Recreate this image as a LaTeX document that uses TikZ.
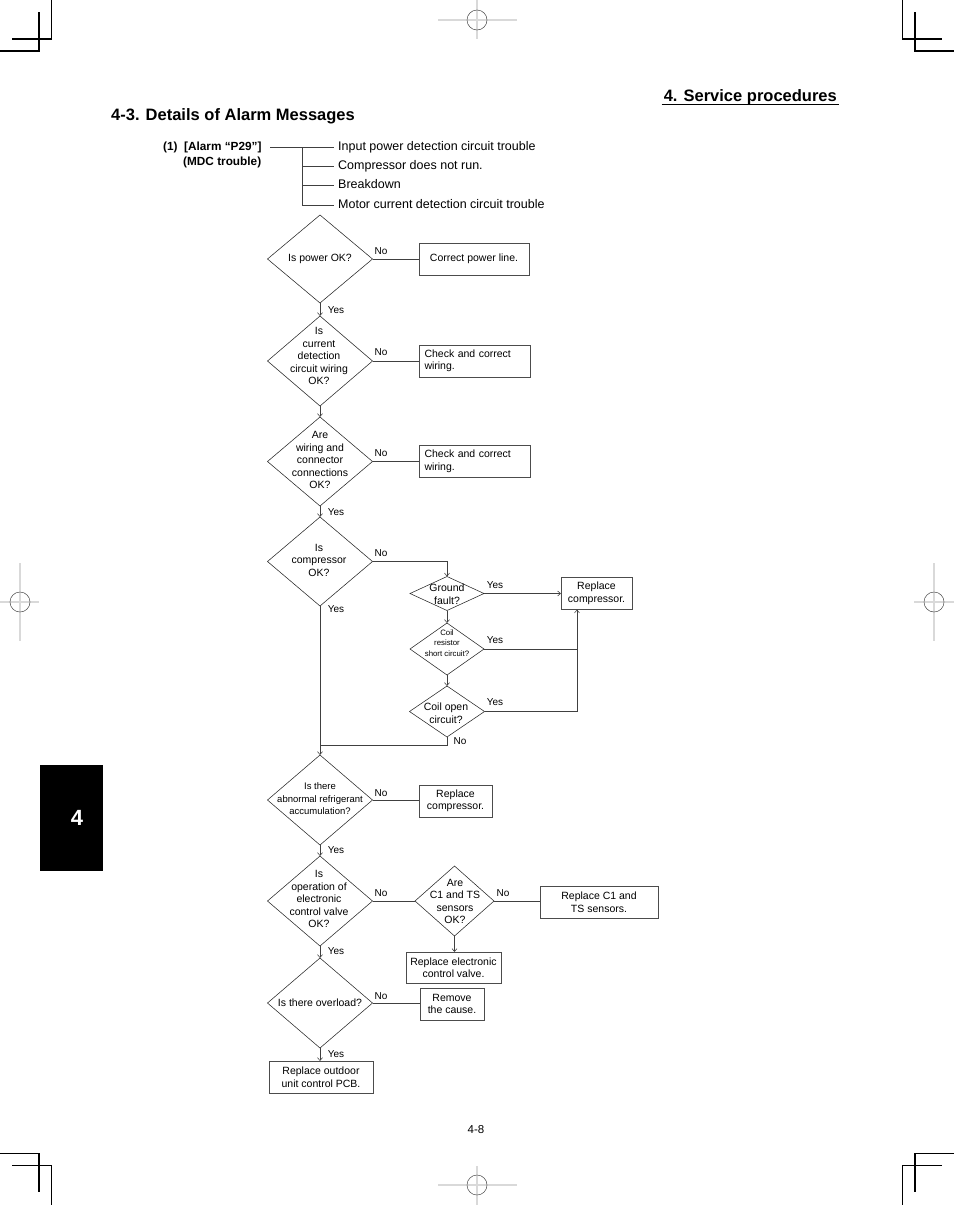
\documentclass[tikz,border=0pt]{standalone}
\usepackage{fontspec}
\setmainfont{Liberation Sans}
\usetikzlibrary{shapes.geometric,arrows.meta,shadows,calc}
\begin{document}
\begin{tikzpicture}[x=1pt,y=-1pt,
 line/.style={draw=black!75,line width=0.55pt},
 arr/.style={line,-{Straight Barb[length=3pt,width=5pt]}},
 dia/.style={diamond,draw=black!85,line width=0.55pt,inner sep=0pt,outer sep=0pt},
 dtext/.style={align=center,inner sep=0pt,font=\fontsize{10.5}{12.5}\selectfont},
 box/.style={rectangle,draw=black!70,line width=0.55pt,fill=white,inner sep=0pt,outer sep=0pt,align=center,font=\fontsize{10.5}{12.5}\selectfont,drop shadow={shadow xshift=0.9pt,shadow yshift=-0.9pt,fill=black!55,opacity=1}},
 yn/.style={inner sep=0pt,font=\fontsize{10}{12}\selectfont},
 tit/.style={inner sep=0pt,anchor=base west,text height=9pt,text depth=2.6pt,font=\fontsize{12.5}{14}\selectfont},
 crop/.style={line width=1.1pt,black},
 regl/.style={line width=1.1pt,black!15},
 regc/.style={line width=0.5pt,black!70}]

\useasboundingbox (0,0) rectangle (954,1205);

% crop marks
\draw[crop] (51.5,0) -- (51.5,39) -- (12,39);
\draw[crop] (39,12) -- (39,51) -- (0,51);
\draw[crop] (902.5,0) -- (902.5,39) -- (942,39);
\draw[crop] (915,12) -- (915,51) -- (954,51);
\draw[crop] (0,1153.5) -- (39,1153.5) -- (39,1192);
\draw[crop] (12,1165.5) -- (51.5,1165.5) -- (51.5,1205);
\draw[crop] (954,1153.5) -- (915,1153.5) -- (915,1192);
\draw[crop] (942,1165.5) -- (902.5,1165.5) -- (902.5,1205);

% registration marks
\foreach \cx/\cy/\ax/\bx/\ay/\by in {477/20/438/517/0/39, 477/1185/438/517/1166/1205, 20/602/0/39/563/641, 934/602/914/954/563/641}{
  \draw[regl] (\ax,\cy) -- (\bx,\cy);
  \draw[regl] (\cx,\ay) -- (\cx,\by);
  \draw[regc] (\cx,\cy) circle[radius=10];
}

% tab
\fill[black] (40,765) rectangle (103,871);
\node[text=white,font=\bfseries\fontsize{22}{24}\selectfont,inner sep=0pt] (tab) at (77,818) {4};

% headers
\node[font=\bfseries\fontsize{16.5}{18}\selectfont,anchor=base east,inner sep=0pt] (hs) at (837,101) {4. Service procedures};
\draw[line width=1pt,black] ($(hs.base west)+(-2,3.8)$) -- ($(hs.base east)+(2,3.8)$);
\node[font=\bfseries\fontsize{16.5}{18}\selectfont,anchor=base west,inner sep=0pt] (hd) at (111,120) {4-3. Details of Alarm Messages};
\node[font=\fontsize{11.5}{13}\selectfont,inner sep=0pt] (hp) at (476,1130) {4-8};

% alarm tree
\node[font=\bfseries\fontsize{11.8}{14}\selectfont,anchor=base west,inner sep=0pt] (al1) at (163,150.5) {(1)\ \ [Alarm “P29”]};
\node[font=\bfseries\fontsize{11.8}{14}\selectfont,anchor=base west,inner sep=0pt] (al2) at (183,165.5) {(MDC trouble)};
\node[tit] (i1) at (338,150.5) {Input power detection circuit trouble};
\node[tit] (i2) at (338,169.5) {Compressor does not run.};
\node[tit] (i3) at (338,188.5) {Breakdown};
\node[tit] (i4) at (338,208.5) {Motor current detection circuit trouble};
\coordinate (tl) at (270,147.3);
\coordinate (tv) at (302,147.3);
\draw[line] (tl) -- ([xshift=-4pt]i1.west);
\draw[line] (tv) |- ([xshift=-4pt]i4.west);
\draw[line] (tv) |- ([xshift=-4pt]i2.west);
\draw[line] (tv) |- ([xshift=-4pt]i3.west);

% main column
\node[dia,minimum width=105pt,minimum height=88pt] (d1) at (320,259) {};
\node[dtext] (t1) at (320,259) {Is power OK?};
\node[box,minimum width=110pt,minimum height=32pt] (b1) at (474,259) {Correct power line.};
\node[yn] (n1) at (381,251) {No};
\node[yn] (y1) at (336,310) {Yes};

\node[dia,minimum width=105pt,minimum height=90pt] (d2) at (320,361) {};
\node[dtext] (t2) at (319,356) {Is\\current\\detection\\circuit wiring\\OK?};
\node[box,minimum width=111pt,minimum height=32pt,text width=100pt,align=left] (b2) at (474.5,361) {Check and correct\\wiring.};
\node[yn] (n2) at (381,352) {No};

\node[dia,minimum width=105pt,minimum height=89pt] (d3) at (320,461.5) {};
\node[dtext] (t3) at (320,460) {Are\\wiring and\\connector\\connections\\OK?};
\node[box,minimum width=111pt,minimum height=32pt,text width=100pt,align=left] (b3) at (474.5,461.5) {Check and correct\\wiring.};
\node[yn] (n3) at (381,453) {No};
\node[yn] (y3) at (336,512) {Yes};

\node[dia,minimum width=105pt,minimum height=89pt] (d4) at (320,561.5) {};
\node[dtext] (t4) at (319,560) {Is\\compressor\\OK?};
\node[yn] (n4) at (381,553) {No};
\node[yn] (y4) at (336,609) {Yes};

\node[dia,minimum width=74pt,minimum height=34pt] (gf) at (447,593.5) {};
\node[dtext,font=\fontsize{10.5}{13}\selectfont] (tgf) at (447,594.5) {Ground\\fault?};
\node[yn] (ygf) at (495,585) {Yes};
\node[box,minimum width=71pt,minimum height=32pt] (rc1) at (596.5,593.5) {Replace\\compressor.};

\node[dia,minimum width=74pt,minimum height=52pt] (cr) at (447,649) {};
\node[dtext,font=\fontsize{7.8}{10.5}\selectfont] (tcr) at (447,643) {Coil\\resistor\\short circuit?};
\node[yn] (ycr) at (495,640) {Yes};

\node[dia,minimum width=75pt,minimum height=51pt] (co) at (447,711.5) {};
\node[dtext] (tco) at (446,713) {Coil open\\circuit?};
\node[yn] (yco) at (495,702) {Yes};
\node[yn] (nco) at (460,741) {No};

\node[dia,minimum width=105pt,minimum height=90pt] (d5) at (320,800) {};
\node[dtext,font=\fontsize{9.5}{12.5}\selectfont] (t5) at (320,799) {Is there\\abnormal refrigerant\\accumulation?};
\node[box,minimum width=73pt,minimum height=32pt] (b5) at (455.5,801) {Replace\\compressor.};
\node[yn] (n5) at (381,793) {No};
\node[yn] (y5) at (336,850) {Yes};

\node[dia,minimum width=105pt,minimum height=90pt] (d6) at (320,901) {};
\node[dtext] (t6) at (319,899) {Is\\operation of\\electronic\\control valve\\OK?};
\node[yn] (n6) at (381,893) {No};
\node[yn] (y6) at (336,951) {Yes};

\node[dia,minimum width=79pt,minimum height=70pt] (c1) at (454.5,901) {};
\node[dtext] (tc1) at (455,901.5) {Are\\C1 and TS\\sensors\\OK?};
\node[yn] (nc1) at (503,893) {No};
\node[box,minimum width=118pt,minimum height=32pt] (b6) at (599,902) {Replace C1 and\\TS sensors.};
\node[box,minimum width=95pt,minimum height=31pt] (b7) at (453.5,967.5) {Replace electronic\\control valve.};

\node[dia,minimum width=105pt,minimum height=90pt] (d7) at (320,1003) {};
\node[dtext] (t7) at (320,1003) {Is there overload?};
\node[yn] (n7) at (381,996) {No};
\node[box,minimum width=64pt,minimum height=32pt] (b8) at (452,1004) {Remove\\the cause.};
\node[yn] (y7) at (336,1054) {Yes};
\node[box,minimum width=104pt,minimum height=32pt] (b9) at (321,1077) {Replace outdoor\\unit control PCB.};

% connectors
\draw[line] (d1.east) -- (d1.east -| b1.west);
\draw[arr] (d1.south) -- (d2.north);
\draw[line] (d2.east) -- (d2.east -| b2.west);
\draw[arr] (d2.south) -- (d3.north);
\draw[line] (d3.east) -- (d3.east -| b3.west);
\draw[arr] (d3.south) -- (d4.north);
\draw[arr] (d4.east) -| (gf.north);
\draw[arr] (gf.east) -- (gf.east -| rc1.west);
\draw[arr] (gf.south) -- (cr.north);
\draw[arr] (cr.south) -- (co.north);
\coordinate (j1) at (577,609.5);
\draw[line] (cr.east) -- (cr.east -| j1);
\draw[arr] (co.east) -| (j1);
\coordinate (j2) at (320,745);
\draw[line] (co.south) |- (j2);
\draw[arr] (d4.south) -- (d5.north);
\draw[line] (d5.east) -- (d5.east -| b5.west);
\draw[arr] (d5.south) -- (d6.north);
\draw[line] (d6.east) -- (c1.west);
\draw[line] (c1.east) -- (c1.east -| b6.west);
\draw[arr] (c1.south) -- (c1.south |- b7.north);
\draw[arr] (d6.south) -- (d7.north);
\draw[line] (d7.east) -- (d7.east -| b8.west);
\draw[arr] (d7.south) -- (d7.south |- b9.north);
\end{tikzpicture}
\end{document}
